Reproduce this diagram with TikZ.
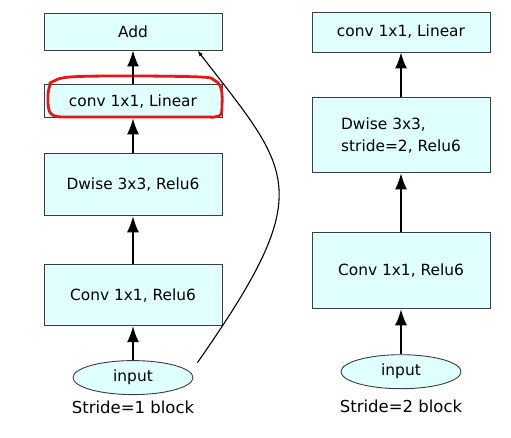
\documentclass[tikz,border=0pt]{standalone}
\usepackage{fontspec}
\setmainfont{DejaVu Sans}
\usetikzlibrary{arrows.meta,positioning,shapes.geometric,calc}
\definecolor{blockfill}{RGB}{224,255,255}
\definecolor{blockline}{RGB}{60,60,60}
\definecolor{markred}{RGB}{228,24,24}

\begin{document}
\begin{tikzpicture}[
      x=1pt,y=1pt,
      layer/.style={draw=blockline,fill=blockfill,line width=0.9pt,minimum width=178pt,inner sep=0pt,font=\fontsize{15.4}{22}\selectfont,align=center},
      inp/.style={ellipse,draw=blockline,fill=blockfill,line width=0.9pt,minimum width=120pt,minimum height=34pt,inner sep=0pt,font=\fontsize{15.4}{18}\selectfont},
      blocklabel/.style={inner sep=0pt,font=\fontsize{16.5}{20}\selectfont},
      arr/.style={-{Latex[length=16pt,width=12pt]},line width=1.6pt}
    ]
      \useasboundingbox (0,0) rectangle (511,437);
      % stride=1 block
      \node[layer,minimum height=37pt] (addL) at (133,405.5) {Add};
      \node[layer,minimum height=33pt,below=34pt of addL] (linL) {conv 1x1, Linear};
      \node[layer,minimum height=62pt,below=35pt of linL] (dwL) {Dwise 3x3, Relu6};
      \node[layer,minimum height=61pt,below=48pt of dwL] (expL) {Conv 1x1, Relu6};
      \node[inp,below=34pt of expL] (inL) {input};
      \node[blocklabel,below=6pt of inL] (capL) {Stride=1 block};
      % stride=2 block
      \node[layer,minimum height=40pt] (linR) at (401,405) {conv 1x1, Linear};
      \node[layer,minimum height=75pt,align=left,below=45pt of linR] (dwR) {Dwise 3x3,\\stride=2, Relu6};
      \node[layer,minimum height=76pt,below=59pt of dwR] (expR) {Conv 1x1, Relu6};
      \node[inp,below=45pt of expR] (inR) {input};
      \node[blocklabel,below=11pt of inR] (capR) {Stride=2 block};
      % red mark
      \draw[markred,line width=2.8pt,line cap=round] plot[smooth cycle,tension=0.6] coordinates
        {(52,355) (70,360) (130,361) (200,360) (214,357) (221,349) (222,332) (219,321) (200,320) (130,320) (70,320) (55,321) (49,327) (48,342) (50,352)};
      \draw[arr] (inL) -- (expL);
      \draw[arr] (expL) -- (dwL);
      \draw[arr] (dwL) -- (linL);
      \draw[arr] (linL) -- (addL);
      \draw[arr] (inR) -- (expR);
      \draw[arr] (expR) -- (dwR);
      \draw[arr] (dwR) -- (linR);
      % shortcut
      \coordinate (skipA) at ($(inL.east)+(4pt,15pt)$);
      \coordinate (skipB) at ([xshift=-25pt]addL.south east);
      \draw[-{Latex[length=6pt,width=4pt]},line width=1.1pt] (skipA) .. controls (319,248) and (292,264) .. (skipB);
    \end{tikzpicture}
\end{document}
